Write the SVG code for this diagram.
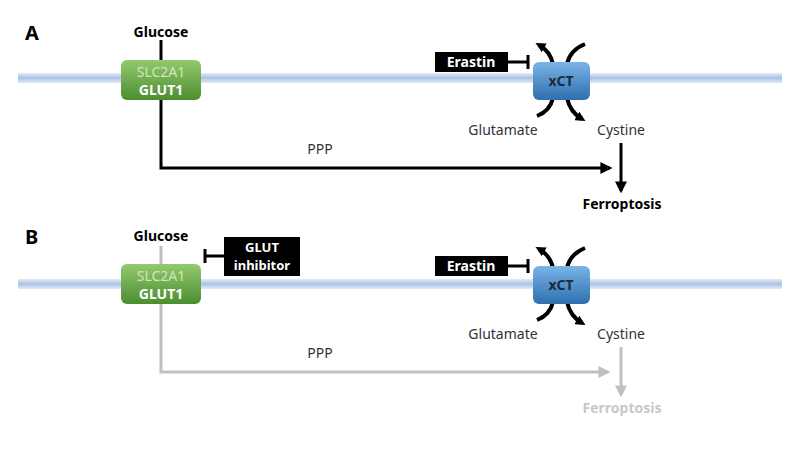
<svg xmlns="http://www.w3.org/2000/svg" width="800" height="450" viewBox="0 0 800 450">
<defs>
<linearGradient id="mem" x1="0" y1="0" x2="0" y2="1">
<stop offset="0" stop-color="#e4ecf7"/><stop offset="0.5" stop-color="#a9c1e5"/><stop offset="1" stop-color="#e4ecf7"/>
</linearGradient>
<linearGradient id="grn" x1="0" y1="0" x2="0" y2="1">
<stop offset="0" stop-color="#93c970"/><stop offset="1" stop-color="#4b8d2e"/>
</linearGradient>
<linearGradient id="blu" x1="0" y1="0" x2="0" y2="1">
<stop offset="0" stop-color="#7ab4e6"/><stop offset="1" stop-color="#2f6fae"/>
</linearGradient>
<marker id="ah" viewBox="0 0 10 10" refX="8" refY="5" markerWidth="12" markerHeight="12" markerUnits="userSpaceOnUse" orient="auto">
<path d="M0,0 L10,5 L0,10 z" fill="#000"/>
</marker>
<marker id="ahs" viewBox="0 0 10 10" refX="6" refY="5" markerWidth="10" markerHeight="10" markerUnits="userSpaceOnUse" orient="auto">
<path d="M0,0 L10,5 L0,10 z" fill="#000"/>
</marker>
<marker id="ahg" viewBox="0 0 10 10" refX="8" refY="5" markerWidth="12" markerHeight="12" markerUnits="userSpaceOnUse" orient="auto">
<path d="M0,0 L10,5 L0,10 z" fill="#c0c0c0"/>
</marker>
</defs>
<style>
text{font-family:"Noto Sans","Liberation Sans",sans-serif;}
.lbl{font-size:20px;font-weight:bold;fill:#000;}
.b{font-size:14px;font-weight:bold;fill:#000;text-anchor:middle;}
.n{font-size:14px;fill:#333;text-anchor:middle;}
.w{font-size:14px;font-weight:bold;fill:#fff;text-anchor:middle;}
.w2{font-size:13px;font-weight:bold;fill:#fff;text-anchor:middle;}
.slc{font-size:14px;fill:#cfe6bd;text-anchor:middle;}
.xct{font-size:14px;font-weight:bold;fill:#1a2a3a;text-anchor:middle;}
.k{stroke:#000;stroke-width:3;fill:none;}
.g{stroke:#c0c0c0;stroke-width:3;fill:none;}
.cv{stroke:#000;stroke-width:4;fill:none;}
</style>

<!-- Panel A -->
<g id="panelA">
<text class="lbl" x="25" y="40">A</text>
<rect id="membraneA" x="18" y="73" width="764" height="10" fill="url(#mem)"/>
<g id="connectorsA">
<path class="k" d="M161,40 V168 H610" marker-end="url(#ah)"/>
<path class="k" d="M621,143 V191" marker-end="url(#ah)"/>
<path class="k" d="M508,62 H528 M528,55 V69"/>
<path class="cv" d="M553,64 Q550,51 539,45" marker-end="url(#ahs)"/>
<path class="cv" d="M567,64 Q570,50 585,44"/>
<path class="cv" d="M553,98 Q550,111 537,116"/>
<path class="cv" d="M567,98 Q570,112 582,119" marker-end="url(#ahs)"/>
</g>
<g id="glucoseA"><text class="b" x="161" y="37">Glucose</text></g>
<g id="glut1A">
<rect x="121" y="60" width="80" height="40" rx="6" fill="url(#grn)"/>
<text class="slc" x="161" y="77">SLC2A1</text>
<text class="w" x="161" y="95">GLUT1</text>
</g>
<g id="erastinA">
<rect x="435" y="52" width="73" height="20" fill="#000"/>
<text class="w" x="471" y="67">Erastin</text>
</g>
<g id="xctA">
<rect x="533" y="62" width="57" height="38" rx="6" fill="url(#blu)"/>
<text class="xct" x="561" y="86">xCT</text>
</g>
<g id="glutamateA"><text class="n" x="503" y="135">Glutamate</text></g>
<g id="cystineA"><text class="n" x="621" y="135">Cystine</text></g>
<g id="pppA"><text class="n" x="320" y="154">PPP</text></g>
<g id="ferroA"><text class="b" x="622" y="209">Ferroptosis</text></g>
</g>

<!-- Panel B -->
<g id="panelB">
<text class="lbl" x="25" y="244">B</text>
<rect id="membraneB" x="18" y="279" width="764" height="10" fill="url(#mem)"/>
<g id="connectorsB">
<path class="g" d="M161,246 V372 H608" marker-end="url(#ahg)"/>
<path class="g" d="M621,347 V395" marker-end="url(#ahg)"/>
<path class="k" d="M205,256 H224 M205,249 V263"/>
<path class="k" d="M508,266 H528 M528,259 V273"/>
<path class="cv" d="M553,268 Q550,255 539,249" marker-end="url(#ahs)"/>
<path class="cv" d="M567,268 Q570,254 585,248"/>
<path class="cv" d="M553,302 Q550,315 537,320"/>
<path class="cv" d="M567,302 Q570,316 582,323" marker-end="url(#ahs)"/>
</g>
<g id="glucoseB"><text class="b" x="161" y="241">Glucose</text></g>
<g id="glut1B">
<rect x="121" y="264" width="80" height="40" rx="6" fill="url(#grn)"/>
<text class="slc" x="161" y="281">SLC2A1</text>
<text class="w" x="161" y="299">GLUT1</text>
</g>
<g id="glutInhibitor">
<rect x="224" y="237" width="76" height="39" fill="#000"/>
<text class="w2" x="262" y="252">GLUT</text>
<text class="w2" x="262" y="270">inhibitor</text>
</g>
<g id="erastinB">
<rect x="435" y="256" width="73" height="20" fill="#000"/>
<text class="w" x="471" y="271">Erastin</text>
</g>
<g id="xctB">
<rect x="533" y="266" width="57" height="38" rx="6" fill="url(#blu)"/>
<text class="xct" x="561" y="290">xCT</text>
</g>
<g id="glutamateB"><text class="n" x="503" y="339">Glutamate</text></g>
<g id="cystineB"><text class="n" x="621" y="339">Cystine</text></g>
<g id="pppB"><text class="n" x="320" y="358">PPP</text></g>
<g id="ferroB"><text class="b" x="622" y="413" style="fill:#c8c8c8">Ferroptosis</text></g>
</g>
</svg>
